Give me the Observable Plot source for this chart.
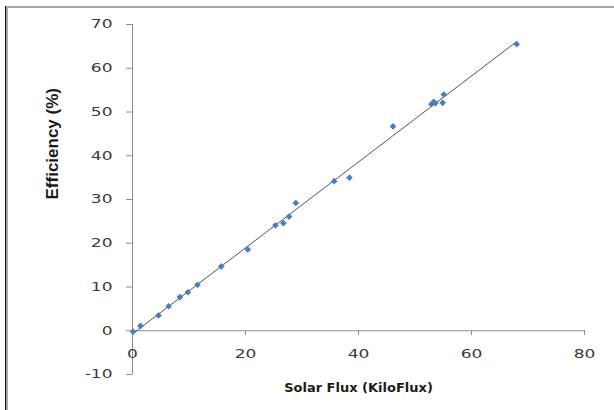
<!DOCTYPE html>
<html><head><meta charset="utf-8">
<script src="https://cdn.jsdelivr.net/npm/d3@7"></script>
<script src="https://cdn.jsdelivr.net/npm/@observablehq/plot@0.6"></script>
<style>
body{margin:0;background:#fff;}
#wrap{position:relative;width:614px;height:410px;overflow:hidden;background:#fff;}
#wrap svg{position:absolute;left:0;top:0;}
.b1{position:absolute;left:5px;top:6px;width:1px;height:420px;background:#111;}
.b2{position:absolute;left:6px;top:6px;width:700px;height:500px;border-left:2px solid #a8a8a8;border-top:2px solid #a8a8a8;}
</style></head><body><div id="wrap"><div class="b1"></div><div class="b2"></div></div>
<script>
const solarFlux  = [0.1, 1.4, 4.6, 6.4, 8.4, 9.8, 11.5, 15.7, 20.4, 25.3, 26.7, 27.7, 28.9, 35.7, 38.4, 46.1, 52.9, 53.3, 53.6, 54.9, 55.1, 68.0];
const efficiency = [-0.2, 1.1, 3.5, 5.6, 7.7, 8.8, 10.5, 14.7, 18.6, 24.1, 24.6, 26.1, 29.2, 34.2, 35.0, 46.7, 51.8, 52.3, 52.0, 52.1, 54.0, 65.5];
const xTicks = [0, 20, 40, 60, 80];
const yTicks = [-10, 0, 10, 20, 30, 40, 50, 60, 70];
const xLabel = "Solar Flux (KiloFlux)";
const yLabel = "Efficiency (%)";

const points = solarFlux.map((x, i) => ({x, y: efficiency[i]}));

const chart = Plot.plot({
  width: 614,
  height: 410,
  marginLeft: 132,
  marginRight: 30,
  marginTop: 24,
  marginBottom: 80,
  x: {domain: [0, 80], axis: null},
  y: {domain: [-10, 70], range: [374, 24], axis: null},
  style: {fontFamily: "DejaVu Sans", fontSize: "12px", color: "#3a3a3a", background: "transparent"},
  marks: [
    Plot.ruleX([0], {y1: yTicks[0], y2: yTicks[yTicks.length - 1], stroke: "#8c8c8c"}),
    Plot.ruleY([0], {stroke: "#8c8c8c"}),
    Plot.axisY({ticks: yTicks, tickSize: 6, tickPadding: 14, stroke: "#8c8c8c", fill: "#3a3a3a", label: null, tickFormat: d => String(d)}),
    Plot.axisX({ticks: xTicks, tickSize: 5, tickPadding: 14, stroke: "#8c8c8c", fill: "#3a3a3a", label: null, tickFormat: d => String(d)}),
    Plot.linearRegressionY(points, {x: "x", y: "y", ci: 0, stroke: "#555", strokeWidth: 1}),
    Plot.dot(points, {x: "x", y: "y", symbol: "diamond2", r: 3, fill: "#4a7ebb", stroke: null}),
    Plot.text([xLabel], {frameAnchor: "bottom", dy: 57, lineAnchor: "middle", text: d => d, fontWeight: "bold", fontSize: 13, fill: "#1a1a1a", ariaLabel: "x-label"}),
    Plot.text([yLabel], {frameAnchor: "left", dx: -80, dy: 22, rotate: -90, lineAnchor: "middle", text: d => d, fontWeight: "bold", fontSize: 17, fontFamily: "Liberation Sans", fill: "#1a1a1a", ariaLabel: "y-label"})
  ]
});

document.getElementById("wrap").appendChild(chart);

// emulate the horizontally stretched look of the original
const svg = d3.select(chart);
function stretch(sel, factor) {
  sel.each(function() {
    const w = this.getComputedTextLength();
    d3.select(this).attr("textLength", w * factor).attr("lengthAdjust", "spacingAndGlyphs");
  });
}
stretch(svg.selectAll('[aria-label="y-axis tick label"] text'), 1.42);
stretch(svg.selectAll('[aria-label="x-axis tick label"] text'), 1.42);
svg.selectAll('[aria-label="x-label"] text').each(function() {
  d3.select(this).attr("textLength", 187).attr("lengthAdjust", "spacingAndGlyphs");
});
svg.selectAll('[aria-label="y-label"] text').each(function() {
  d3.select(this).attr("textLength", 78).attr("lengthAdjust", "spacingAndGlyphs");
});
</script>
</body></html>
